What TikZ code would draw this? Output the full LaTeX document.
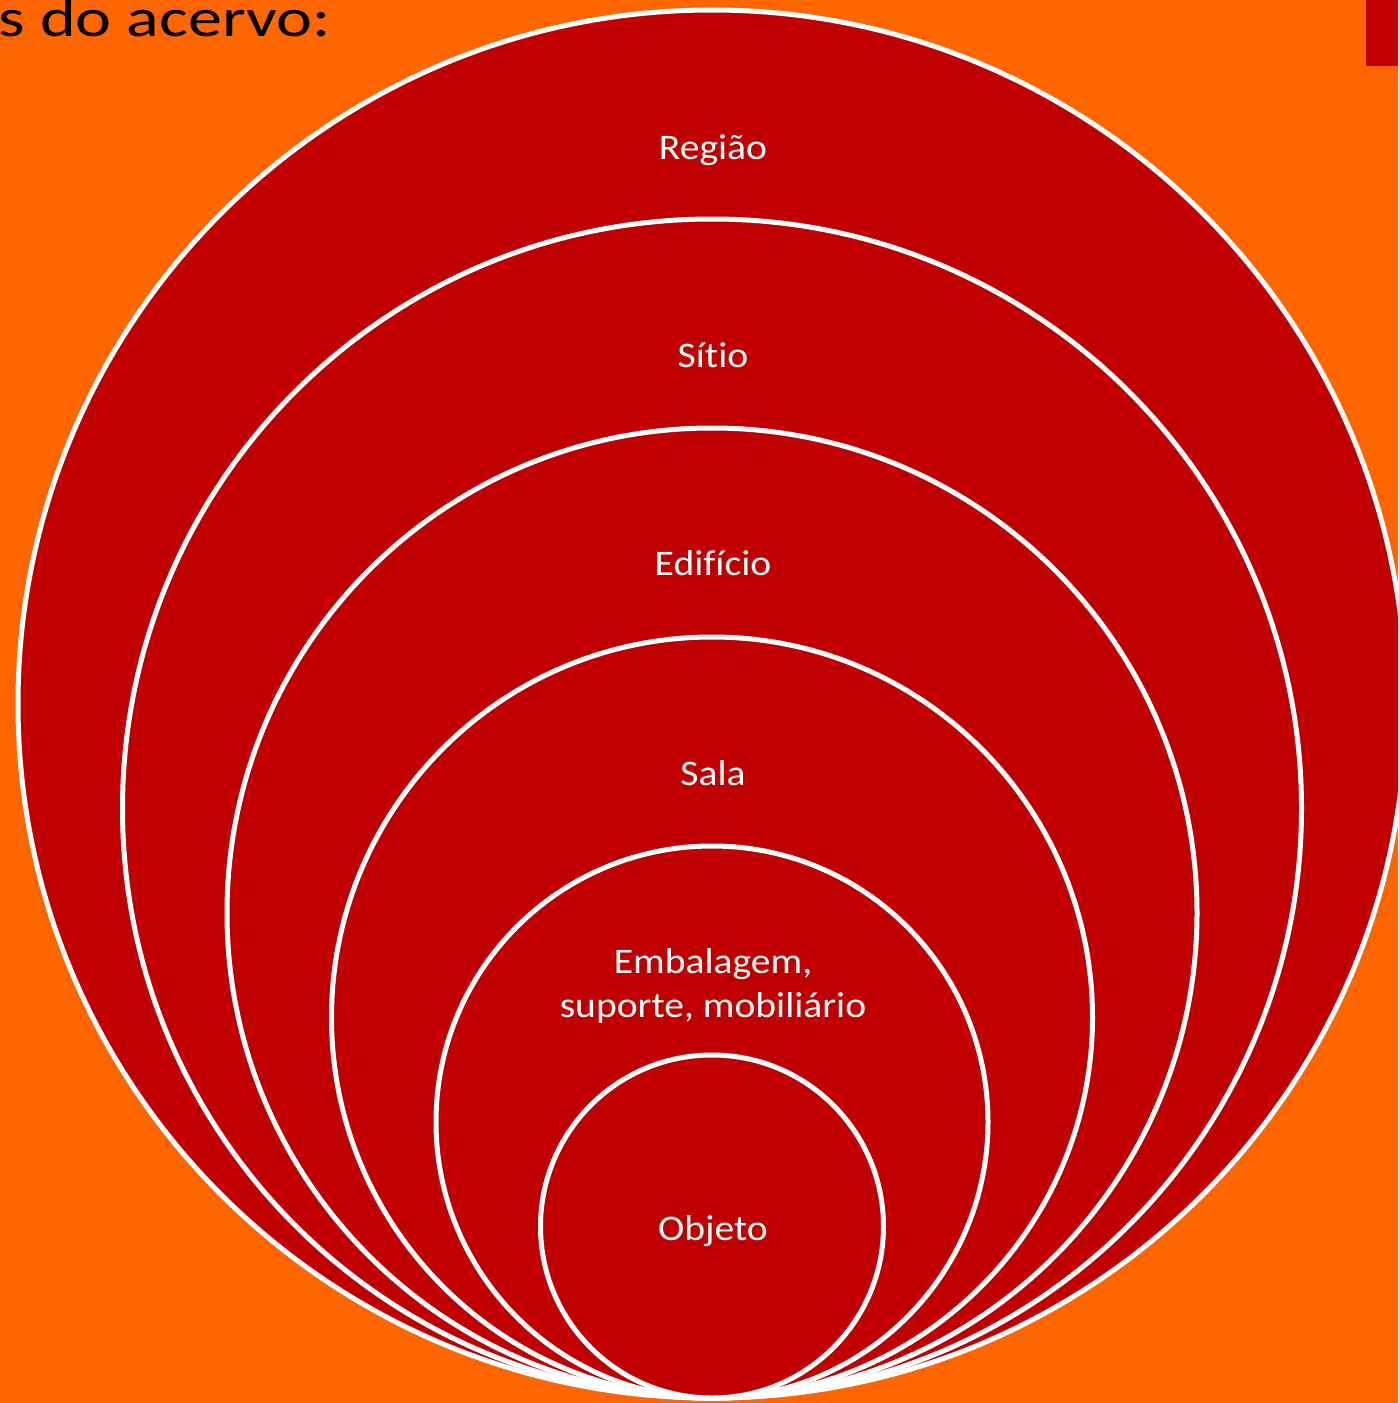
\documentclass[tikz,border=0pt]{standalone}
\usepackage{fontspec}
\setmainfont{Carlito}[Ligatures={NoCommon}]
\newfontfamily\ringfont{Carlito}[Ligatures={NoCommon}, FakeStretch=1.1]
\newfontfamily\headfont{Carlito}[Ligatures={NoCommon}, FakeStretch=1.26]
\definecolor{bgorange}{HTML}{FF6600}
\definecolor{ringred}{HTML}{C00000}
\begin{document}
\begin{tikzpicture}[x=1pt,y=-1pt,
  ring/.style={circle, fill=ringred, draw=white, line width=5pt, inner sep=0pt, minimum size=#1},
  lbl/.style={text=white, font=\ringfont\fontsize{36}{44}\selectfont, align=center, anchor=base, inner sep=0pt}]
\useasboundingbox (0,0) rectangle (1398,1403);
\clip (0,0) rectangle (1398,1403);
\fill[bgorange] (0,0) rectangle (1398,1403);
\fill[ringred] (1366,0) rectangle (1398,66);
% nested rings, all touching at the bottom
\node[ring=1388pt] (regiao)    at (712,704)    {};
\node[ring=1179pt] (sitio)     at (712,808.5)  {};
\node[ring=970pt]  (edificio)  at (712,913)    {};
\node[ring=761pt]  (sala)      at (712,1017.5) {};
\node[ring=552pt]  (embalagem) at (712,1122)   {};
\node[ring=343pt]  (objeto)    at (712,1226.5) {};
% ring labels (base = baseline of the last line)
\node[lbl] (tregiao)    at (713,159)  {Região};
\node[lbl] (tsitio)     at (713,367)  {Sítio};
\node[lbl] (tedificio)  at (713,575)  {Edifício};
\node[lbl] (tsala)      at (713,785)  {Sala};
\node[lbl] (tembalagem) at (713,1017) {Embalagem,\\suporte, mobiliário};
\node[lbl] (tobjeto)    at (713,1240) {Objeto};
% heading, running off the left edge
\node[anchor=base east, text=black, font=\headfont\fontsize{54}{64}\selectfont, inner sep=0pt] (titulo) at (331,36) {s do acervo:};
\end{tikzpicture}
\end{document}
